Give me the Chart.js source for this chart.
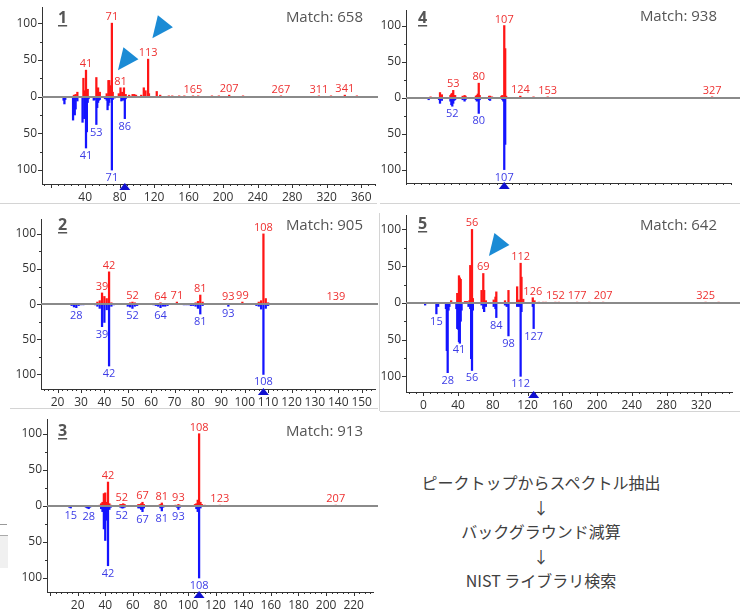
<!DOCTYPE html>
<html>
<head>
<meta charset="utf-8">
<script src="https://cdn.jsdelivr.net/npm/chart.js@4.4.1/dist/chart.umd.min.js"></script>
<style>
  body { margin: 0; background: #fff; width: 740px; height: 613px; overflow: hidden; position: relative; }
  canvas { position: absolute; }
  .sep { position: absolute; background: #d4d4d4; }
  #flow {
    position: absolute; left: 380px; top: 470px; width: 322px; text-align: center;
    font: 16px/24.5px "Noto Sans CJK JP", sans-serif; color: #404040;
  }
</style>
</head>
<body>
<canvas id="c1" width="378" height="203" style="left:0;top:0"></canvas>
<canvas id="c4" width="362" height="203" style="left:378px;top:0"></canvas>
<canvas id="c2" width="378" height="205" style="left:0;top:203px"></canvas>
<canvas id="c5" width="361" height="208" style="left:379px;top:203px"></canvas>
<canvas id="c3" width="378" height="205" style="left:0;top:408px"></canvas>

<div class="sep" style="left:0;top:203px;width:377px;height:1px"></div>
<div class="sep" style="left:380px;top:203px;width:360px;height:1px"></div>
<div class="sep" style="left:379px;top:213px;width:1px;height:198px"></div>
<div class="sep" style="left:380px;top:411px;width:360px;height:1px"></div>
<div class="sep" style="left:10px;top:408px;width:368px;height:1px"></div>
<div class="sep" style="left:0;top:524px;width:7px;height:1px;background:#999"></div>
<div class="sep" style="left:0;top:535px;width:8px;height:32px;background:#f0f0f0;border-top:1px solid #aaa"></div>

<div id="flow">ピークトップからスペクトル抽出<br>↓<br>バックグラウンド減算<br>↓<br>NIST ライブラリ検索</div>

<script>
// ---- spectrum data: [m/z, relative intensity] ----
// red = sample spectrum (up), blue = library spectrum (drawn down)

// panel 1
const red1 = [[27,2],[29,3],[31,6],[38,25],[39,8],[41,36],[43,10],[53,26],[54,8],[55,12],[56,5],[57,6],
  [65,4],[67,22],[68,22],[69,15],[70,5],[71,100],[72,6],[79,4],[81,12],[83,6],[85,12],[87,3],[91,2],
  [95,3],[97,3],[99,2],[105,2],[108,12],[110,8],[113,51],[114,4],[123,7],[127,2],[137,1],[141,1],
  [149,1],[155,1],[165,1],[171,1],[187,1],[195,1],[207,2],[223,1],[267,1],[311,1],[325,1],[341,2],[355,1]];
const blue1 = [[15,5],[16,10],[17,4],[26,32],[27,8],[28,25],[29,17],[30,3],[31,6],[37,35],[39,30],[40,8],
  [41,70],[42,48],[43,8],[44,3],[50,5],[51,4],[53,38],[54,15],[55,8],[56,5],[57,4],[63,3],[65,5],
  [66,18],[67,12],[68,8],[69,3],[71,100],[72,4],[74,2],[82,6],[84,5],[86,30],[87,3]];
const redLabels1 = [41, 71, 81, 113, 165, 207, 267, 311, 341];
const blueLabels1 = [41, 53, 71, 86];
const arrows1 = [[141.7, 94.5], [101.8, 51]];
const target1 = 86;
const match1 = 658;

// panel 2
const red2 = [[36,1],[37,3],[38,5],[39,16],[40,11],[41,8],[42,46],[43,2],[50,1],[51,2],[52,3],[53,2],
  [55,1],[57,1],[60,1],[62,1],[63,1],[64,2],[65,1],[66,1],[67,1],[71,3],[74,1],[77,1],[78,1],[79,2],
  [80,4],[81,13],[82,3],[93,1],[98,1],[99,3],[105,1],[106,3],[107,5],[108,100],[109,8],[110,2],
  [111,1],[113,1],[139,1]];
const blue2 = [[26,2],[27,4],[28,5],[29,2],[30,1],[31,1],[36,1],[37,3],[38,6],[39,32],[40,26],[41,8],
  [42,88],[43,3],[44,1],[50,3],[51,4],[52,6],[53,3],[54,2],[61,1],[62,2],[63,3],[64,5],[65,3],[66,3],
  [67,2],[74,1],[75,1],[76,1],[77,2],[78,2],[79,3],[80,6],[81,14],[82,2],[93,3],[105,2],[106,3],
  [107,7],[108,100],[109,6],[110,2]];
const redLabels2 = [39, 42, 52, 64, 71, 81, 93, 99, 108, 139];
const blueLabels2 = [28, 39, 42, 52, 64, 81, 93, 108];
const target2 = 108;
const match2 = 905;

// panel 3
const red3 = [[36,1],[37,3],[38,5],[39,17],[40,18],[41,5],[42,33],[43,3],[44,1],[51,2],[52,2],[53,3],
  [54,2],[64,2],[65,2],[66,3],[67,5],[68,2],[79,1],[80,2],[81,4],[82,1],[91,1],[93,2],[94,1],[105,2],
  [106,3],[107,8],[108,100],[109,5],[110,2],[112,1],[123,1],[207,1]];
const blue3 = [[14,2],[15,3],[26,2],[27,3],[28,4],[29,2],[37,4],[38,8],[39,32],[40,48],[41,20],[42,83],
  [43,5],[44,2],[51,2],[52,3],[53,3],[54,2],[64,3],[65,3],[66,5],[67,8],[68,3],[80,3],[81,7],[82,2],
  [92,2],[93,5],[94,2],[106,4],[107,8],[108,100],[109,3]];
const redLabels3 = [42, 52, 67, 81, 93, 108, 123, 207];
const blueLabels3 = [15, 28, 42, 52, 67, 81, 93, 108];
const target3 = 108;
const match3 = 913;

// panel 4
const red4 = [[29,1],[39,7],[41,4],[50,3],[51,5],[52,6],[53,10],[54,3],[55,3],[63,2],[65,3],[66,2],
  [77,2],[78,3],[79,5],[80,20],[81,3],[91,2],[92,2],[94,1],[104,2],[105,3],[107,100],[108,68],
  [109,2],[124,2],[138,1],[153,1],[327,1]];
const blue4 = [[27,3],[38,3],[39,8],[41,4],[50,5],[51,10],[52,12],[53,8],[54,4],[55,3],[63,3],[65,5],
  [66,3],[77,3],[78,5],[79,4],[80,22],[81,3],[91,3],[92,4],[105,3],[106,5],[107,100],[108,65]];
const redLabels4 = [53, 80, 107, 124, 153, 327];
const blueLabels4 = [52, 80, 107];
const target4 = 107;
const match4 = 938;

// panel 5
const red5 = [[32,3],[39,13],[41,37],[42,34],[43,32],[48,2],[50,2],[53,3],[54,51],[56,100],[57,6],
  [67,17],[69,40],[70,17],[72,3],[81,4],[83,8],[84,15],[94,3],[98,17],[108,22],[110,4],[112,54],
  [113,35],[115,5],[126,7],[128,3],[133,1],[138,1],[141,1],[152,1],[156,1],[177,1],[191,1],[207,1],
  [325,1],[340,1]];
const blue5 = [[2,3],[15,15],[17,5],[26,8],[27,65],[28,95],[29,10],[30,5],[38,8],[39,35],[40,36],
  [41,53],[42,55],[43,25],[44,10],[52,5],[54,8],[55,76],[56,92],[57,10],[67,3],[69,8],[70,12],[72,5],
  [81,5],[83,8],[84,20],[94,3],[96,5],[98,45],[108,5],[110,5],[112,100],[113,12],[126,5],[127,35]];
const redLabels5 = [56, 69, 112, 126, 152, 177, 207, 325];
const blueLabels5 = [15, 28, 41, 56, 84, 98, 112, 127];
const arrows5 = [[99.1, 78.7]];
const target5 = 127;
const match5 = 642;

// ---- styling ----
const RED = '#ff1616';
const BLUE = '#1414ff';
const RED_TXT = '#ee3030';
const BLUE_TXT = '#3c3ce6';
const AXIS = '#333';
const ARROW = '#1b8bd5';
const FONT = '"Open Sans", sans-serif';

Chart.defaults.font.family = FONT;
Chart.defaults.color = AXIS;

function intensityAt(list, mz) {
  const hit = list.find(d => d[0] === mz);
  return hit ? hit[1] : 0;
}

// draws zero line, tick marks, peak labels, markers and captions
function decoPlugin(p) {
  return {
    id: 'deco',
    afterDraw(chart) {
      const { ctx, chartArea: a } = chart;
      const x = chart.scales.x, y = chart.scales.y;
      ctx.save();

      // zero line
      const y0 = Math.round(y.getPixelForValue(0));
      ctx.strokeStyle = '#8a8a8a';
      ctx.lineWidth = 2;
      ctx.beginPath();
      ctx.moveTo(a.left, y0);
      ctx.lineTo(chart.width, y0);
      ctx.stroke();

      // tick marks (major longer than minor)
      ctx.strokeStyle = AXIS;
      ctx.lineWidth = 1;
      x.ticks.forEach(t => {
        const px = Math.round(x.getPixelForValue(t.value)) + 0.5;
        const len = t.value % p.xMajor === 0 ? 4 : 2;
        ctx.beginPath();
        ctx.moveTo(px, a.bottom);
        ctx.lineTo(px, a.bottom + len);
        ctx.stroke();
      });
      y.ticks.forEach(t => {
        const py = Math.round(y.getPixelForValue(t.value)) + 0.5;
        const len = t.value % 50 === 0 ? 4 : 2;
        ctx.beginPath();
        ctx.moveTo(a.left, py);
        ctx.lineTo(a.left - len, py);
        ctx.stroke();
      });

      // peak labels
      ctx.font = '11px ' + FONT;
      ctx.textAlign = 'center';
      ctx.textBaseline = 'alphabetic';
      ctx.fillStyle = RED_TXT;
      p.redLabels.forEach(m => {
        const tip = y.getPixelForValue(intensityAt(p.red, m));
        ctx.fillText(String(m), x.getPixelForValue(m), tip - 3);
      });
      ctx.fillStyle = BLUE_TXT;
      p.blueLabels.forEach(m => {
        const tip = y.getPixelForValue(-intensityAt(p.blue, m));
        ctx.fillText(String(m), x.getPixelForValue(m), tip + 11);
      });

      // big arrow markers (tip at data point)
      ctx.fillStyle = ARROW;
      (p.arrows || []).forEach(([m, v]) => {
        const tx = x.getPixelForValue(m), ty = y.getPixelForValue(v);
        ctx.beginPath();
        ctx.moveTo(tx, ty);
        ctx.lineTo(tx - 15, ty - 12);
        ctx.lineTo(tx - 20.5, ty + 11);
        ctx.closePath();
        ctx.fill();
      });

      // target marker on the x axis
      const tx = x.getPixelForValue(p.target);
      ctx.fillStyle = '#1010d0';
      ctx.beginPath();
      ctx.moveTo(tx, a.bottom - 1);
      ctx.lineTo(tx + 5.5, a.bottom + 6);
      ctx.lineTo(tx - 5.5, a.bottom + 6);
      ctx.closePath();
      ctx.fill();

      // panel number (bold, underlined) and match score
      ctx.fillStyle = '#555';
      ctx.textAlign = 'left';
      ctx.font = 'bold 16px ' + FONT;
      ctx.fillText(String(p.num), p.numX, p.numY);
      const w = ctx.measureText(String(p.num)).width;
      ctx.fillRect(p.numX, p.numY + 2, w, 1.5);
      ctx.textAlign = 'right';
      ctx.font = '15px ' + FONT;
      ctx.fillText('Match: ' + p.match, p.matchX, p.matchY);

      ctx.restore();
    }
  };
}

function makeSpectrum(p) {
  const canvas = document.getElementById(p.id);
  const g = p.area;
  new Chart(canvas, {
    type: 'bar',
    data: {
      datasets: [
        { data: p.red.map(([m, v]) => ({ x: m, y: v })), backgroundColor: RED,
          barThickness: 1.6, grouped: false, borderWidth: 0 },
        { data: p.blue.map(([m, v]) => ({ x: m, y: -v })), backgroundColor: BLUE,
          barThickness: 1.6, grouped: false, borderWidth: 0 }
      ]
    },
    options: {
      responsive: false,
      animation: false,
      events: [],
      layout: { padding: { top: g.t, right: canvas.width - g.r, left: 0, bottom: 0 } },
      plugins: { legend: { display: false }, tooltip: { enabled: false } },
      scales: {
        x: {
          type: 'linear', min: p.xRange[0], max: p.xRange[1], offset: false,
          grid: { display: false, drawTicks: false, offset: false },
          border: { display: true, color: AXIS, width: 1 },
          ticks: {
            stepSize: p.xMinor, autoSkip: false, maxRotation: 0, includeBounds: false,
            padding: 6, font: { size: 12 }, color: AXIS,
            callback: v => (v % p.xMajor === 0 && v >= p.xLabelFrom) ? String(v) : ''
          },
          afterFit: s => {
            s.height = canvas.height - g.b;
            s.paddingLeft = s.paddingRight = s.paddingTop = s.paddingBottom = 0;
          }
        },
        y: {
          min: p.yRange[0], max: p.yRange[1],
          grid: { display: false, drawTicks: false },
          border: { display: true, color: AXIS, width: 1 },
          ticks: {
            stepSize: 25, includeBounds: false, padding: 5, font: { size: 12 }, color: AXIS,
            callback: v => v % 50 === 0 ? String(Math.abs(v)) : ''
          },
          afterFit: s => {
            s.width = g.l;
            s.paddingLeft = s.paddingRight = s.paddingTop = s.paddingBottom = 0;
          }
        }
      }
    },
    plugins: [decoPlugin(p)]
  });
}

makeSpectrum({ id: 'c1', num: 1, match: match1, red: red1, blue: blue1,
  redLabels: redLabels1, blueLabels: blueLabels1, arrows: arrows1, target: target1,
  area: { l: 42, t: 7, r: 375, b: 184 }, xRange: [-10, 376], yRange: [-119, 122],
  xMinor: 8, xMajor: 40, xLabelFrom: 40, numX: 58, numY: 23, matchX: 363, matchY: 22 });

makeSpectrum({ id: 'c4', num: 4, match: match4, red: red4, blue: blue4,
  redLabels: redLabels4, blueLabels: blueLabels4, target: target4,
  area: { l: 28, t: 10, r: 353, b: 183 }, xRange: [3, 347], yRange: [-118.6, 121.6],
  xMinor: 8, xMajor: 40, xLabelFrom: 40, numX: 40, numY: 23, matchX: 339, matchY: 21 });

makeSpectrum({ id: 'c2', num: 2, match: match2, red: red2, blue: blue2,
  redLabels: redLabels2, blueLabels: blueLabels2, target: target2,
  area: { l: 41, t: 16, r: 375, b: 186 }, xRange: [12.9, 155.7], yRange: [-120.7, 121.2],
  xMinor: 2, xMajor: 10, xLabelFrom: 20, numX: 58, numY: 27, matchX: 363, matchY: 27 });

makeSpectrum({ id: 'c5', num: 5, match: match5, red: red5, blue: blue5,
  redLabels: redLabels5, blueLabels: blueLabels5, arrows: arrows5, target: target5,
  area: { l: 27, t: 12, r: 353, b: 189 }, xRange: [-20, 355.4], yRange: [-121.3, 119.6],
  xMinor: 8, xMajor: 40, xLabelFrom: 0, numX: 39, numY: 26, matchX: 338, matchY: 27 });

makeSpectrum({ id: 'c3', num: 3, match: match3, red: red3, blue: blue3,
  redLabels: redLabels3, blueLabels: blueLabels3, target: target3,
  area: { l: 47, t: 11, r: 373, b: 184 }, xRange: [-2.2, 234], yRange: [-119.4, 120.4],
  xMinor: 4, xMajor: 20, xLabelFrom: 20, numX: 58, numY: 28, matchX: 363, matchY: 28 });
</script>
</body>
</html>
